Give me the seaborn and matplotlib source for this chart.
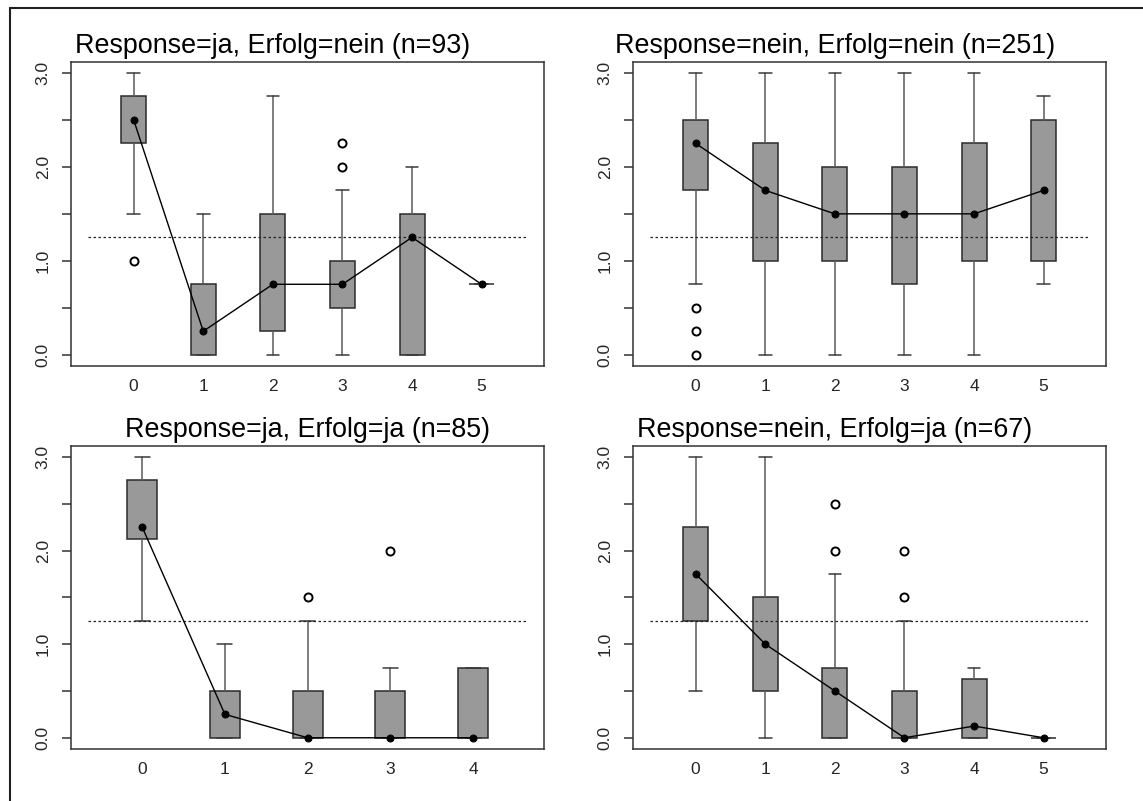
import matplotlib
matplotlib.use("Agg")
import matplotlib.pyplot as plt
import matplotlib.transforms as mtransforms
from matplotlib.lines import Line2D
import seaborn as sns

sns.set_style("white")
plt.rcParams["font.family"] = ["Liberation Sans", "DejaVu Sans"]

threshold = 1.25

# Response=ja, Erfolg=nein
a_title = "Response=ja, Erfolg=nein (n=93)"
a_groups = [0, 1, 2, 3, 4, 5]
a_whislo = [1.5, 0.0, 0.0, 0.0, 0.0, 0.75]
a_q1 = [2.25, 0.0, 0.25, 0.5, 0.0, 0.75]
a_med = [2.5, 0.25, 0.75, 0.75, 1.25, 0.75]
a_q3 = [2.75, 0.75, 1.5, 1.0, 1.5, 0.75]
a_whishi = [3.0, 1.5, 2.75, 1.75, 2.0, 0.75]
a_out = [[1.0], [], [], [2.0, 2.25], [], []]

# Response=nein, Erfolg=nein
b_title = "Response=nein, Erfolg=nein (n=251)"
b_groups = [0, 1, 2, 3, 4, 5]
b_whislo = [0.75, 0.0, 0.0, 0.0, 0.0, 0.75]
b_q1 = [1.75, 1.0, 1.0, 0.75, 1.0, 1.0]
b_med = [2.25, 1.75, 1.5, 1.5, 1.5, 1.75]
b_q3 = [2.5, 2.25, 2.0, 2.0, 2.25, 2.5]
b_whishi = [3.0, 3.0, 3.0, 3.0, 3.0, 2.75]
b_out = [[0.0, 0.25, 0.5], [], [], [], [], []]

# Response=ja, Erfolg=ja
c_title = "Response=ja, Erfolg=ja (n=85)"
c_groups = [0, 1, 2, 3, 4]
c_whislo = [1.25, 0.0, 0.0, 0.0, 0.0]
c_q1 = [2.125, 0.0, 0.0, 0.0, 0.0]
c_med = [2.25, 0.25, 0.0, 0.0, 0.0]
c_q3 = [2.75, 0.5, 0.5, 0.5, 0.75]
c_whishi = [3.0, 1.0, 1.25, 0.75, 0.75]
c_out = [[], [], [1.5], [2.0], []]

# Response=nein, Erfolg=ja
d_title = "Response=nein, Erfolg=ja (n=67)"
d_groups = [0, 1, 2, 3, 4, 5]
d_whislo = [0.5, 0.0, 0.0, 0.0, 0.0, 0.0]
d_q1 = [1.25, 0.5, 0.0, 0.0, 0.0, 0.0]
d_med = [1.75, 1.0, 0.5, 0.0, 0.125, 0.0]
d_q3 = [2.25, 1.5, 0.75, 0.5, 0.625, 0.0]
d_whishi = [3.0, 3.0, 1.75, 1.25, 0.75, 0.0]
d_out = [[], [], [2.0, 2.5], [1.5, 2.0], [], []]

y_ticks = [0.0, 1.0, 2.0, 3.0]
y_minor = [0.5, 1.5, 2.5]

FIG_W, FIG_H = 1143, 801
fig = plt.figure(figsize=(FIG_W / 100, FIG_H / 100), dpi=100)

frame_col = "#333333"


def draw_panel(rect, title, title_x, groups, whislo, q1, med, q3, whishi, outliers):
    ax = fig.add_axes(rect)
    stats = [
        dict(whislo=lo, q1=a, med=m, q3=b, whishi=hi, fliers=f)
        for lo, a, m, b, hi, f in zip(whislo, q1, med, q3, whishi, outliers)
    ]
    ax.bxp(
        stats,
        positions=groups,
        widths=0.36,
        patch_artist=True,
        showfliers=True,
        boxprops=dict(facecolor="#999999", edgecolor="#2b2b2b", linewidth=1.1),
        whiskerprops=dict(color="#5a5a5a", linewidth=1.1),
        capprops=dict(color="#3a3a3a", linewidth=1.1),
        medianprops=dict(linewidth=0),
        flierprops=dict(marker="o", markerfacecolor="none", markeredgecolor="black",
                        markersize=5.8, markeredgewidth=1.4),
    )
    n = len(groups)
    ax.hlines(threshold, -0.65, n - 0.35, colors="#222222", linewidth=0.9,
              linestyles=(0, (2.0, 2.0)), zorder=3)
    sns.lineplot(x=groups, y=med, ax=ax, color="black", linewidth=1.0,
                 marker="o", markersize=5, markeredgecolor="black",
                 estimator=None, sort=False, zorder=4)

    span = n + 0.3
    ax.set_xlim(-0.65 - 0.04 * span, n - 0.35 + 0.04 * span)
    ax.set_ylim(-0.12, 3.12)
    ax.set_xlabel("")
    ax.set_ylabel("")

    ax.set_xticks(groups)
    ax.set_xticklabels([str(g) for g in groups])
    ax.set_yticks(y_ticks)
    ax.set_yticklabels([f"{v:.1f}" for v in y_ticks])
    ax.set_yticks(y_minor, minor=True)

    ax.tick_params(axis="y", which="both", left=True, length=6.5, width=1.1,
                   color=frame_col, pad=8, labelsize=12.5, labelrotation=90)
    ax.tick_params(axis="x", which="both", bottom=False, length=0, pad=9.5,
                   labelsize=12.5)
    for lab in ax.get_yticklabels():
        lab.set_verticalalignment("center")
    for sp in ax.spines.values():
        sp.set_color(frame_col)
        sp.set_linewidth(1.1)

    offset = mtransforms.ScaledTranslation(0, 8.5 / 100, fig.dpi_scale_trans)
    ax.text(title_x, 1.0, title, transform=ax.transAxes + offset,
            ha="center", va="baseline", fontsize=19.4, color="black")
    return ax


left_col = 70.9 / FIG_W
right_col = 632.9 / FIG_W
col_w = 473.5 / FIG_W
top_row_b = 1 - 366 / FIG_H
bot_row_b = 1 - 749 / FIG_H
row_h_top = (366 - 61.7) / FIG_H
row_h_bot = (749 - 445.7) / FIG_H

draw_panel([left_col, top_row_b, col_w, row_h_top], a_title, 0.426,
           a_groups, a_whislo, a_q1, a_med, a_q3, a_whishi, a_out)
draw_panel([right_col, top_row_b, col_w, row_h_top], b_title, 0.426,
           b_groups, b_whislo, b_q1, b_med, b_q3, b_whishi, b_out)
draw_panel([left_col, bot_row_b, col_w, row_h_bot], c_title, 0.5,
           c_groups, c_whislo, c_q1, c_med, c_q3, c_whishi, c_out)
draw_panel([right_col, bot_row_b, col_w, row_h_bot], d_title, 0.426,
           d_groups, d_whislo, d_q1, d_med, d_q3, d_whishi, d_out)

# outer frame: left and top edges
bx = 10 / FIG_W
by = 1 - 8 / FIG_H
fig.add_artist(Line2D([bx, bx], [0, by], transform=fig.transFigure,
                      color="#231f20", linewidth=1.5))
fig.add_artist(Line2D([bx, 1], [by, by], transform=fig.transFigure,
                      color="#231f20", linewidth=1.5))

fig.savefig("out.png", dpi=100)
